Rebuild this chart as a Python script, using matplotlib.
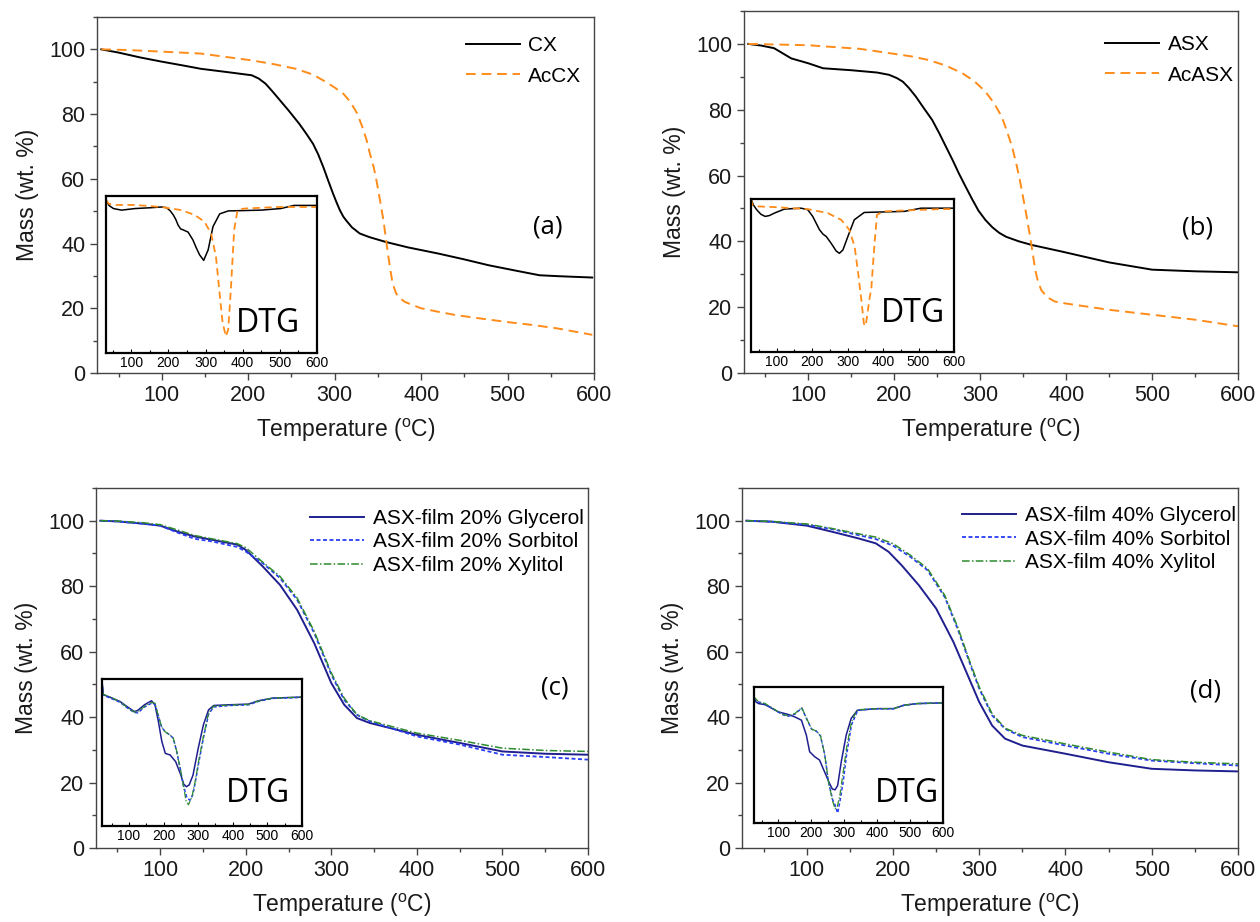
import numpy as np
import matplotlib
matplotlib.use('Agg')
from matplotlib import pyplot as plt
from matplotlib.ticker import MultipleLocator

plt.rcParams['font.family'] = ['Liberation Sans', 'DejaVu Sans']
plt.rcParams['mathtext.fontset'] = 'custom'
plt.rcParams['mathtext.rm'] = 'Liberation Sans'

# ---- panel (a): CX / AcCX ----
t_cx = [30, 50, 75, 100, 125, 145, 175, 204, 212, 220, 228, 235, 247, 259, 267, 275, 281, 287, 292, 298, 302, 306, 310, 314, 320, 329, 340, 359, 385, 420, 450, 478, 510, 537, 560, 598]
m_cx = [100, 99, 97.5, 96.2, 95, 94, 93, 92, 91, 89.4, 87, 84.8, 81, 77, 74, 70.8, 67.5, 63.5, 59.8, 55.5, 52.8, 50.3, 48.3, 46.9, 45, 43.1, 42, 40.5, 38.8, 36.9, 35.1, 33.3, 31.6, 30.2, 29.9, 29.5]
t_accx = [30, 60, 100, 145, 204, 230, 255, 275, 290, 300, 310, 318, 326, 332, 337, 341, 345, 348, 351, 354, 357, 361, 364, 367, 371, 376, 381, 390, 400, 420, 440, 470, 498, 530, 557, 598]
m_accx = [100, 99.8, 99.3, 98.7, 96.6, 95.4, 94, 92.2, 89.9, 88.2, 86.3, 83.8, 80.2, 76, 71.9, 67.5, 63.7, 60, 55.5, 51, 46, 38, 32.5, 27.7, 24.6, 23, 22, 21, 20, 18.9, 17.9, 16.8, 15.8, 14.8, 13.8, 11.8]

dtg_t_cx = [32, 40, 52, 74, 110, 150, 181, 195, 205, 213, 220, 226, 233, 240, 253, 266, 275, 284, 295, 307, 320, 338, 361, 400, 449, 502, 538, 600]
dtg_cx = [97.5, 94, 92, 91, 92, 92.5, 93, 92.6, 90.5, 88, 85, 81.5, 79, 78.4, 77, 72, 67, 62.5, 59, 65.7, 80.5, 88.6, 90.5, 90.7, 91, 92, 94, 94]
dtg_t_accx = [32, 40, 60, 110, 181, 235, 270, 297, 315, 328, 337, 346, 355, 361, 368, 377, 386, 404, 494, 600]
dtg_accx = [97.5, 95, 94.3, 94.3, 93, 91, 88, 83.7, 76, 61.4, 40, 19, 10.6, 15, 40, 78.4, 91, 92, 93, 93]

# ---- panel (b): ASX / AcASX ----
t_asx = [30, 45, 60, 80, 100, 117, 150, 180, 194, 203, 210, 217, 225, 234, 244, 252, 260, 268, 275, 283, 291, 298, 306, 314, 322, 330, 345, 360, 395, 450, 500, 550, 600]
m_asx = [100, 99.5, 98.7, 95.6, 94.1, 92.6, 92, 91.3, 90.6, 89.6, 88.5, 86.6, 84, 80.6, 76.9, 73, 68.8, 64.6, 60.7, 56.6, 52.6, 49.3, 46.5, 44.3, 42.6, 41.4, 40, 38.9, 36.9, 33.6, 31.4, 30.9, 30.6]
t_acasx = [30, 100, 121, 160, 194, 220, 240, 260, 279, 293, 306, 316, 325, 331, 337, 342, 346, 349, 352, 355, 358, 361, 364, 367, 371, 378, 387, 400, 450, 500, 550, 600]
m_acasx = [100, 99.6, 99.2, 98.5, 97.2, 96.2, 95.1, 93.4, 91.1, 88.7, 85.5, 82, 77.9, 73.5, 68.8, 63.5, 58.7, 54.5, 50.5, 46, 41.4, 36.5, 31.3, 28, 25.2, 23, 21.7, 21.1, 19.2, 17.7, 16.2, 14.2]

dtg_t_asx = [28, 35, 44, 56, 68, 80, 94, 122, 169, 188, 202, 212, 221, 231, 240, 254, 268, 277, 287, 301, 319, 347, 394, 460, 507, 600]
dtg_asx = [100, 96, 93, 90, 88.6, 89.2, 90.8, 93.4, 94, 93, 88.6, 84, 79.9, 77, 75.5, 71, 66, 64.5, 66.7, 75.5, 86.4, 91.2, 91.5, 91.9, 94, 94]
dtg_t_acasx = [28, 32, 44, 94, 188, 244, 282, 305, 320, 330, 339, 346, 351, 356, 362, 367, 372, 377, 383, 403, 469, 563, 600]
dtg_acasx = [100, 96, 95.2, 94.7, 93.4, 90.8, 86.4, 79.9, 68.9, 51.4, 33.9, 18.6, 17, 25, 35, 41.5, 58, 73.3, 89.7, 91.9, 92.6, 93.4, 93.4]

# ---- panel (c): films 20% ----
t_c_gly = [30, 50, 80, 100, 120, 140, 160, 190, 200, 220, 240, 260, 280, 290, 300, 315, 330, 345, 400, 450, 500, 550, 600]
m_c_gly = [100, 99.8, 99.1, 98.5, 96.7, 95.2, 94.2, 92.7, 91.1, 86, 80.4, 72.8, 62.6, 56.5, 50.4, 43.8, 39.7, 38.2, 34.6, 32.1, 29.5, 28.8, 28.5]
t_c_sor = [30, 50, 80, 100, 120, 140, 160, 190, 200, 220, 240, 260, 280, 300, 315, 330, 345, 400, 450, 500, 550, 600]
m_c_sor = [100, 99.8, 99.1, 98.5, 96.4, 94.5, 93.7, 92, 90.6, 87, 82.5, 75.9, 65.7, 53, 45.3, 40.7, 38.7, 34.1, 31.6, 28.5, 27.8, 27]
t_c_xyl = [30, 50, 80, 100, 120, 140, 160, 190, 200, 220, 240, 260, 280, 300, 315, 330, 345, 400, 450, 500, 550, 600]
m_c_xyl = [100, 99.9, 99.4, 98.8, 97.2, 95.5, 94.5, 93, 91.8, 87.3, 83, 76.4, 66.2, 53.5, 45.8, 40.7, 38.9, 35.1, 32.9, 30.5, 29.8, 29.5]

dtg_t_c_gly = [22, 26, 46, 74, 94, 115, 124, 145, 165, 175, 185, 195, 205, 219, 235, 250, 258, 266, 274, 285, 300, 315, 330, 345, 394, 445, 474, 515, 600]
dtg_c_gly = [98.4, 89.3, 87.5, 84.7, 81.3, 77.9, 78.4, 82.5, 85.2, 82.5, 71, 57.4, 49.4, 48.3, 43.7, 34.6, 28.5, 26.7, 28, 34.6, 52.8, 68.8, 79, 82, 82.5, 82.9, 85.2, 87, 87.7]
dtg_t_c_sor = [22, 26, 46, 74, 94, 115, 126, 145, 165, 175, 184, 194, 204, 218, 228, 238, 248, 257, 267, 276, 284, 291, 301, 316, 330, 345, 394, 445, 474, 515, 600]
dtg_c_sor = [98, 89, 87, 84.2, 80.5, 77.2, 77, 81, 83.5, 83, 75.6, 67.6, 64.2, 62, 59.7, 50.6, 39.2, 27.8, 19.5, 17.5, 21, 29, 42.5, 61, 76, 81, 82, 82.4, 84.8, 86.8, 87.5]
dtg_t_c_xyl = [22, 26, 46, 74, 94, 115, 126, 145, 165, 175, 184, 194, 204, 218, 228, 238, 248, 257, 265, 272, 282, 291, 301, 316, 330, 345, 394, 445, 474, 515, 600]
dtg_c_xyl = [98.4, 89.5, 87.8, 84.5, 80.8, 77.5, 77.8, 81.5, 84, 83.6, 75.6, 67.6, 64.2, 62, 59.7, 50.6, 39.2, 27.8, 17, 14.5, 20, 30, 43.7, 62, 76.8, 81.6, 82.3, 82.7, 85, 87, 87.7]

# ---- panel (d): films 40% ----
t_d_gly = [30, 60, 100, 130, 160, 180, 195, 210, 230, 250, 270, 285, 300, 315, 330, 350, 400, 450, 500, 550, 600]
m_d_gly = [100, 99.7, 98.5, 96.6, 94.6, 93.1, 90.5, 86.4, 80.3, 73.2, 63, 53.8, 44.6, 37.4, 33.4, 31.3, 28.8, 26.2, 24.2, 23.7, 23.4]
t_d_sor = [30, 60, 100, 130, 160, 180, 200, 220, 240, 260, 275, 290, 300, 315, 330, 350, 400, 450, 500, 550, 600]
m_d_sor = [100, 99.7, 98.8, 97.4, 95.6, 94.4, 92.4, 89, 84.9, 76.7, 67, 55.8, 48.7, 40.5, 36.4, 33.9, 31.3, 28.8, 26.7, 25.9, 25.2]
t_d_xyl = [30, 60, 100, 130, 160, 180, 200, 220, 240, 260, 275, 290, 300, 315, 330, 350, 400, 450, 500, 550, 600]
m_d_xyl = [100, 99.8, 99, 97.6, 96, 95, 93, 89.5, 85.4, 77.2, 67.5, 56.3, 49.2, 41, 36.6, 34.4, 31.8, 29.3, 27, 26.2, 25.7]

dtg_t_d_gly = [26, 32, 40, 60, 100, 130, 150, 170, 185, 195, 210, 225, 240, 255, 264, 272, 280, 291, 306, 321, 340, 400, 450, 481, 521, 600]
dtg_d_gly = [92.7, 89, 87.8, 87, 81.7, 79.8, 78, 75.6, 64.6, 52.4, 48.8, 46.3, 37.8, 29.3, 25, 24.4, 27.5, 45, 64.6, 76.8, 82.9, 84.1, 84.1, 86.6, 87.8, 88.3]
dtg_t_d_sor = [26, 40, 60, 100, 115, 130, 150, 171, 186, 201, 216, 228, 241, 252, 265, 272, 280, 287, 297, 307, 322, 339, 348, 400, 450, 481, 521, 600]
dtg_d_sor = [92, 89, 87.5, 81.5, 79.5, 78.5, 80, 84.5, 76.5, 69, 67.4, 64, 50, 30.5, 17, 13.4, 7.3, 15.9, 30.5, 50, 72, 81.7, 83.2, 84, 84, 86.5, 87.8, 88.3]
dtg_t_d_xyl = [26, 40, 60, 100, 115, 130, 150, 171, 186, 201, 216, 228, 241, 252, 265, 272, 279, 287, 297, 307, 322, 337, 348, 400, 450, 481, 521, 600]
dtg_d_xyl = [92.7, 89, 87.8, 81.7, 79.8, 78.8, 80.5, 84.9, 76.8, 69, 67.6, 64, 50, 30.5, 15.9, 10.5, 12.2, 20.7, 37.8, 54.9, 74.4, 82.2, 83.4, 84.1, 84.1, 86.6, 87.8, 88.3]

W, H = 1260.0, 922.0
ORANGE = '#FF8C1A'
NAVY = '#1F1F8F'
BLUE = '#2A3DF5'
GREEN = '#2E8B2E'


def rect(l, t, r, b):
    return [l / W, 1 - b / H, (r - l) / W, (b - t) / H]


def style_main(ax):
    ax.set_xlim(25, 600)
    ax.set_ylim(0, 110)
    ax.xaxis.set_major_locator(MultipleLocator(100))
    ax.xaxis.set_minor_locator(MultipleLocator(50))
    ax.yaxis.set_major_locator(MultipleLocator(20))
    ax.yaxis.set_minor_locator(MultipleLocator(10))
    ax.set_yticks([0, 20, 40, 60, 80, 100])
    ax.tick_params(which='major', direction='out', length=5, width=1, labelsize=15.5,
                   colors='#444444', labelcolor='#1a1a1a')
    ax.tick_params(which='minor', direction='out', length=3, width=1, colors='#444444')
    for s in ax.spines.values():
        s.set_color('#444444')
        s.set_linewidth(1.0)
    ax.set_xlabel(r'Temperature ($^{\rm o}$C)', fontsize=16.5, labelpad=8, color='#1a1a1a')
    ax.set_ylabel('Mass (wt. %)', fontsize=16.5, labelpad=7, color='#1a1a1a')


def style_inset(ax, x0):
    ax.set_xlim(x0, 600)
    ax.set_ylim(0, 100)
    ax.set_yticks([])
    ax.set_xticks([100, 200, 300, 400, 500, 600])
    ax.xaxis.set_minor_locator(MultipleLocator(50))
    ax.tick_params(which='major', direction='in', length=3, width=0.8, labelsize=10, pad=2)
    ax.tick_params(which='minor', direction='in', length=2, width=0.8)
    for s in ax.spines.values():
        s.set_color('black')
        s.set_linewidth(1.6)


def legend(ax, x, y, sp):
    ax.legend(loc='upper left', bbox_to_anchor=(x, y), frameon=False, fontsize=15,
              handlelength=2.6, handletextpad=0.4, labelspacing=sp, borderpad=0, borderaxespad=0)


fig = plt.figure(figsize=(12.6, 9.22), dpi=100)

# (a)
ax = fig.add_axes(rect(97, 17, 594, 373))
ax.plot(t_cx, m_cx, color='black', lw=1.4, label='CX')
ax.plot(t_accx, m_accx, color=ORANGE, lw=1.4, dashes=(5, 3), label='AcCX')
style_main(ax)
legend(ax, 0.742, 0.946, 0.55)
ax.text(547, 45, '(a)', fontsize=18.5, family='Open Sans', ha='center', va='center')
ins = fig.add_axes(rect(106, 196, 317, 353))
ins.plot(dtg_t_cx, dtg_cx, color='black', lw=1.1)
ins.plot(dtg_t_accx, dtg_accx, color=ORANGE, lw=1.3, dashes=(4, 2.5))
style_inset(ins, 32)
ins.text(0.77, 0.19, 'DTG', transform=ins.transAxes, fontsize=23, family='Open Sans',
         ha='center', va='center')

# (b)
ax = fig.add_axes(rect(744, 11, 1238, 373))
ax.plot(t_asx, m_asx, color='black', lw=1.4, label='ASX')
ax.plot(t_acasx, m_acasx, color=ORANGE, lw=1.4, dashes=(5, 3), label='AcASX')
style_main(ax)
legend(ax, 0.731, 0.933, 0.55)
ax.text(553, 44, '(b)', fontsize=18.5, family='Open Sans', ha='center', va='center')
ins = fig.add_axes(rect(751, 199, 954, 352))
ins.plot(dtg_t_asx, dtg_asx, color='black', lw=1.1)
ins.plot(dtg_t_acasx, dtg_acasx, color=ORANGE, lw=1.3, dashes=(4, 2.5))
style_inset(ins, 28)
ins.text(0.80, 0.25, 'DTG', transform=ins.transAxes, fontsize=23, family='Open Sans',
         ha='center', va='center')

# (c)
ax = fig.add_axes(rect(96, 488, 588, 848))
ax.plot(t_c_gly, m_c_gly, color=NAVY, lw=1.4, label='ASX-film 20% Glycerol')
ax.plot(t_c_sor, m_c_sor, color=BLUE, lw=1.3, dashes=(2.2, 1.4), label='ASX-film 20% Sorbitol')
ax.plot(t_c_xyl, m_c_xyl, color=GREEN, lw=1.1, dashes=(5, 1.5, 1, 1.5), label='ASX-film 20% Xylitol')
style_main(ax)
legend(ax, 0.435, 0.942, 0.22)
ax.text(561, 49, '(c)', fontsize=18.5, family='Open Sans', ha='center', va='center')
ins = fig.add_axes(rect(102, 679, 302, 826))
ins.plot(dtg_t_c_gly, dtg_c_gly, color=NAVY, lw=1.1)
ins.plot(dtg_t_c_sor, dtg_c_sor, color=BLUE, lw=1.1, dashes=(2.2, 1.4))
ins.plot(dtg_t_c_xyl, dtg_c_xyl, color=GREEN, lw=0.9, dashes=(5, 1.5, 1, 1.5))
style_inset(ins, 22)
ins.text(0.78, 0.22, 'DTG', transform=ins.transAxes, fontsize=23, family='Open Sans',
         ha='center', va='center')

# (d)
ax = fig.add_axes(rect(742, 488, 1238, 848))
ax.plot(t_d_gly, m_d_gly, color=NAVY, lw=1.4, label='ASX-film 40% Glycerol')
ax.plot(t_d_sor, m_d_sor, color=BLUE, lw=1.3, dashes=(2.2, 1.4), label='ASX-film 40% Sorbitol')
ax.plot(t_d_xyl, m_d_xyl, color=GREEN, lw=1.1, dashes=(5, 1.5, 1, 1.5), label='ASX-film 40% Xylitol')
style_main(ax)
legend(ax, 0.444, 0.95, 0.22)
ax.text(562, 48, '(d)', fontsize=18.5, family='Open Sans', ha='center', va='center')
ins = fig.add_axes(rect(754, 687, 943, 823))
ins.plot(dtg_t_d_gly, dtg_d_gly, color=NAVY, lw=1.1)
ins.plot(dtg_t_d_sor, dtg_d_sor, color=BLUE, lw=1.1, dashes=(2.2, 1.4))
ins.plot(dtg_t_d_xyl, dtg_d_xyl, color=GREEN, lw=0.9, dashes=(5, 1.5, 1, 1.5))
style_inset(ins, 26)
ins.text(0.81, 0.22, 'DTG', transform=ins.transAxes, fontsize=23, family='Open Sans',
         ha='center', va='center')

fig.savefig('out.png', dpi=100)
